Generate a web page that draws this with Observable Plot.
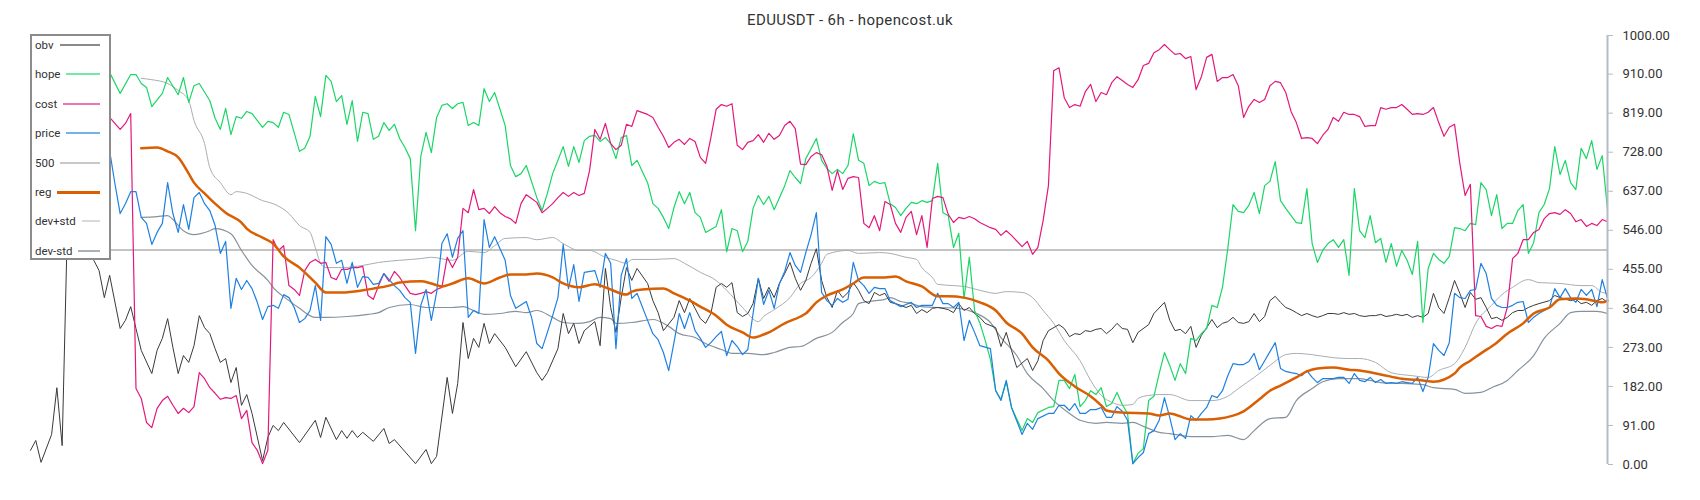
<!DOCTYPE html>
<html><head><meta charset="utf-8">
<script src="https://cdn.jsdelivr.net/npm/d3@7"></script>
<script src="https://cdn.jsdelivr.net/npm/@observablehq/plot@0.6"></script>
<style>
body{margin:0;background:#fff;font-family:Roboto,"Open Sans",sans-serif}
#wrap{position:relative;width:1700px;height:500px}
#title{height:32px;padding-top:12px;box-sizing:border-box;line-height:16px;text-align:center;font-size:15px;letter-spacing:0.4px;color:#333}
#legend{position:absolute;left:30px;top:34px;width:81px;height:226px;border:2px solid #8c8c8c;background:#fff;box-sizing:border-box}
.li{position:absolute;left:3px;right:9px;display:flex;align-items:center;height:14px;font-size:11.5px;color:#333}
.li span.s{flex:1;margin-left:6px}
</style></head>
<body><div id="wrap"><div id="title">EDUUSDT - 6h - hopencost.uk</div><div id="chart"></div><div id="legend"></div></div>
<script>
const yTicks = [0, 91, 182, 273, 364, 455, 546, 637, 728, 819, 910, 1000];
const legendLabels = ["obv","hope","cost","price","500","reg","dev+std","dev-std"];
const level = 500;
const lastBar = 299;

const obv = [[0,33],[1,56],[2,5],[4,70],[5,179],[6,44],[7,560],[8,620],[9,580],[10,640],[11,560],[12,476],[13,452],[14,389],[15,441],[17,317],[18,336],[19,368],[20,317],[21,266],[23,212],[24,266],[25,294],[26,340],[27,273],[28,212],[29,254],[30,238],[31,277],[32,347],[33,319],[34,305],[35,270],[36,238],[37,247],[38,191],[39,226],[40,138],[41,163],[42,119],[44,9],[45,63],[46,91],[47,79],[48,98],[51,51],[54,103],[55,63],[56,110],[58,58],[59,79],[60,61],[61,79],[62,63],[63,75],[65,54],[67,84],[68,49],[69,58],[73,2],[75,35],[76,2],[77,19],[79,203],[80,119],[81,189],[82,331],[83,247],[84,294],[85,273],[86,329],[87,282],[88,305],[90,273],[92,228],[94,263],[96,214],[97,196],[98,214],[100,270],[101,352],[102,305],[103,329],[104,282],[105,312],[107,333],[108,277],[109,457],[110,366],[111,308],[112,389],[113,459],[114,429],[115,457],[117,422],[118,382],[119,354],[120,312],[122,343],[123,382],[124,354],[125,387],[126,364],[127,340],[128,329],[129,352],[130,413],[131,422],[132,413],[133,424],[134,354],[135,345],[136,352],[137,375],[138,434],[139,387],[140,413],[141,389],[142,422],[143,445],[144,471],[145,434],[146,406],[147,429],[148,469],[149,503],[150,429],[151,389],[152,366],[153,406],[154,389],[155,401],[156,424],[157,406],[158,382],[159,375],[160,401],[161,394],[162,399],[163,378],[164,375],[165,371],[166,366],[167,371],[168,352],[169,361],[170,354],[171,364],[172,366],[173,364],[174,361],[175,354],[176,375],[177,359],[178,366],[179,352],[180,343],[181,329],[183,319],[184,275],[185,308],[186,266],[187,226],[189,247],[190,219],[191,242],[192,289],[193,312],[195,326],[196,317],[197,298],[198,305],[199,303],[200,312],[201,310],[202,315],[203,317],[204,305],[205,315],[206,329],[207,317],[208,315],[209,284],[210,308],[212,326],[213,352],[215,378],[216,336],[217,312],[218,315],[219,305],[220,322],[221,273],[222,301],[223,319],[224,338],[225,319],[226,329],[227,333],[228,343],[229,331],[230,329],[231,333],[232,352],[233,333],[234,345],[235,382],[236,392],[237,378],[238,366],[239,361],[240,354],[241,347],[242,352],[243,347],[244,343],[245,347],[246,352],[247,352],[248,350],[249,354],[250,350],[251,352],[252,347],[253,345],[254,347],[255,347],[256,350],[257,345],[258,347],[259,350],[260,347],[261,350],[262,343],[263,347],[264,343],[265,352],[266,399],[267,366],[268,352],[269,389],[270,429],[271,399],[272,366],[273,401],[274,385],[275,389],[276,366],[277,340],[278,343],[279,336],[280,343],[281,354],[282,359],[283,359],[284,366],[285,371],[286,375],[288,382],[289,394],[290,389],[292,382],[293,385],[294,375],[295,378],[296,371],[297,382],[298,387],[299,378]];

const hope = [[0,850],[2,880],[4,830],[6,900],[8,990],[9,1000],[10,985],[11,930],[12,900],[13,870],[14,880],[15,914],[17,865],[19,909],[20,909],[21,888],[22,879],[23,834],[25,865],[26,902],[28,862],[29,902],[30,844],[31,883],[32,888],[34,848],[35,807],[36,781],[37,830],[38,769],[39,811],[40,807],[41,823],[42,818],[44,786],[45,800],[46,797],[47,786],[48,821],[49,816],[51,730],[52,737],[53,765],[54,858],[55,811],[56,907],[57,893],[58,846],[59,860],[60,793],[61,848],[62,753],[63,821],[64,818],[65,758],[66,765],[67,797],[68,779],[69,793],[70,760],[71,739],[72,713],[73,545],[74,718],[75,774],[76,727],[77,809],[78,837],[79,841],[80,830],[81,841],[82,844],[83,790],[84,797],[85,790],[86,876],[87,846],[88,867],[90,790],[91,697],[92,671],[93,678],[94,697],[96,622],[97,592],[98,632],[99,678],[100,709],[101,741],[102,695],[103,741],[104,704],[105,755],[106,765],[107,767],[108,753],[109,762],[110,748],[111,713],[112,762],[113,767],[114,697],[115,709],[117,657],[118,608],[119,597],[120,576],[121,550],[122,599],[123,636],[124,608],[125,634],[126,587],[127,576],[128,541],[130,555],[131,594],[132,496],[133,550],[134,545],[135,496],[136,520],[137,597],[138,627],[139,606],[140,625],[141,594],[142,622],[143,650],[144,685],[145,669],[146,655],[147,713],[148,736],[149,760],[150,709],[151,690],[152,678],[153,688],[154,678],[155,697],[156,771],[157,709],[158,702],[159,650],[160,660],[161,655],[162,657],[163,608],[164,599],[165,580],[166,597],[167,611],[168,608],[169,615],[170,611],[171,615],[172,702],[173,587],[174,580],[175,506],[176,539],[177,387],[178,483],[179,359],[180,330],[181,290],[182,245],[183,172],[184,152],[185,193],[186,133],[188,79],[189,107],[190,98],[191,121],[193,133],[194,135],[195,196],[196,196],[197,177],[198,210],[199,135],[200,149],[201,172],[202,163],[203,179],[204,135],[205,142],[206,168],[207,140],[208,119],[209,2],[210,26],[211,37],[212,149],[213,159],[214,212],[215,261],[216,231],[217,196],[218,235],[219,212],[220,294],[221,289],[222,305],[223,317],[224,371],[225,366],[226,413],[227,503],[228,606],[229,590],[230,587],[231,604],[232,634],[233,585],[234,650],[235,660],[236,706],[237,615],[238,597],[239,580],[240,564],[241,562],[242,643],[243,515],[244,471],[245,499],[246,515],[247,524],[248,506],[249,524],[250,441],[251,643],[252,545],[253,529],[254,580],[255,517],[256,527],[257,471],[258,515],[259,462],[260,499],[261,476],[262,443],[263,520],[264,331],[265,457],[266,492],[267,478],[268,469],[269,485],[270,552],[271,550],[272,545],[273,562],[274,559],[275,657],[276,641],[277,580],[278,629],[279,550],[280,562],[281,562],[282,592],[283,606],[284,492],[285,517],[286,587],[287,606],[288,643],[289,741],[290,676],[291,709],[292,657],[293,641],[294,737],[295,713],[296,755],[297,688],[298,720],[299,594]];

const cost = [[0,760],[3,800],[6,780],[9,820],[12,790],[14,800],[15,809],[17,781],[18,795],[19,818],[20,177],[21,154],[22,98],[23,86],[24,131],[25,149],[26,159],[27,138],[28,119],[29,131],[30,121],[31,135],[32,214],[33,200],[34,179],[35,166],[36,152],[37,156],[38,154],[39,161],[40,107],[41,126],[42,51],[43,33],[44,2],[45,33],[46,524],[47,499],[48,510],[49,417],[50,408],[51,394],[52,452],[53,471],[54,478],[55,469],[56,471],[57,436],[58,431],[59,455],[60,455],[61,459],[62,459],[63,462],[64,394],[65,385],[66,417],[67,445],[68,427],[69,450],[70,436],[71,417],[72,399],[73,396],[74,399],[75,403],[76,399],[77,408],[78,413],[79,483],[80,459],[81,483],[82,597],[83,587],[84,641],[85,594],[86,597],[87,585],[88,601],[89,587],[90,578],[91,573],[92,562],[93,608],[94,629],[95,620],[96,611],[97,587],[98,597],[99,608],[100,622],[101,634],[102,625],[103,634],[104,627],[105,632],[106,685],[107,781],[108,758],[109,795],[110,748],[111,734],[112,744],[113,793],[114,788],[115,825],[117,816],[118,809],[119,786],[120,765],[121,739],[122,751],[123,758],[124,746],[125,760],[126,753],[127,716],[128,702],[129,762],[130,828],[131,839],[132,835],[133,841],[134,744],[135,734],[136,751],[137,755],[138,769],[139,751],[140,772],[141,758],[142,767],[143,790],[144,800],[145,783],[146,700],[147,699],[148,718],[149,727],[150,722],[151,695],[152,639],[153,685],[154,641],[155,667],[156,671],[157,669],[158,562],[159,552],[160,580],[161,545],[162,613],[163,606],[164,562],[165,541],[166,576],[167,590],[168,536],[169,580],[170,506],[171,620],[172,625],[173,622],[174,583],[175,564],[176,576],[177,573],[178,578],[179,573],[180,564],[182,552],[183,548],[184,534],[185,545],[186,534],[188,508],[189,520],[190,490],[191,506],[192,569],[193,650],[194,918],[195,925],[196,855],[197,832],[198,839],[199,835],[200,869],[201,886],[202,846],[203,867],[204,862],[205,890],[206,904],[207,895],[208,886],[209,879],[210,897],[211,930],[212,935],[213,960],[214,967],[215,979],[216,967],[217,956],[218,958],[219,946],[220,951],[221,874],[222,904],[223,949],[224,956],[225,893],[226,902],[227,902],[228,909],[229,883],[230,809],[231,835],[232,851],[233,844],[234,851],[235,883],[236,893],[237,890],[238,867],[239,823],[240,797],[241,760],[242,762],[243,760],[244,748],[245,767],[246,781],[247,809],[248,800],[249,821],[250,816],[251,816],[252,811],[253,788],[254,790],[255,790],[256,832],[257,828],[258,832],[259,832],[260,839],[261,828],[262,816],[263,818],[264,816],[265,821],[266,832],[267,797],[268,765],[269,786],[270,793],[271,702],[272,627],[273,653],[274,347],[275,345],[276,322],[277,317],[278,324],[279,322],[280,366],[281,480],[282,492],[283,524],[284,524],[285,541],[286,548],[287,573],[288,585],[289,587],[290,583],[291,594],[292,585],[293,566],[294,571],[295,555],[296,562],[297,557],[298,571],[299,566]];

const price = [[0,700],[3,760],[6,720],[9,780],[12,740],[14,760],[15,732],[16,655],[17,585],[18,608],[19,636],[20,636],[21,576],[22,562],[23,513],[24,541],[25,562],[26,657],[27,585],[28,541],[29,606],[30,548],[31,622],[32,634],[33,608],[34,592],[35,557],[36,492],[37,520],[38,364],[39,434],[40,408],[41,429],[42,410],[43,378],[44,338],[45,368],[46,371],[47,364],[48,396],[49,389],[50,366],[51,331],[52,340],[53,359],[54,417],[55,336],[56,531],[57,513],[58,469],[59,476],[60,422],[61,471],[62,413],[63,438],[64,436],[65,420],[66,422],[67,445],[68,431],[69,417],[70,406],[71,389],[72,378],[73,259],[74,371],[75,408],[76,336],[77,401],[78,515],[79,538],[80,483],[81,527],[82,545],[83,343],[84,359],[85,352],[86,571],[87,506],[88,531],[90,476],[91,394],[92,364],[94,380],[95,343],[96,282],[97,270],[98,308],[99,347],[100,389],[101,513],[102,410],[103,466],[104,380],[105,448],[107,452],[108,413],[109,492],[110,469],[111,270],[112,441],[113,480],[114,387],[115,399],[117,336],[118,305],[119,291],[120,261],[121,219],[122,284],[123,352],[124,317],[125,354],[126,312],[127,294],[128,273],[129,284],[130,298],[131,310],[132,254],[133,289],[134,275],[135,256],[136,268],[137,352],[138,434],[139,373],[140,406],[141,364],[142,422],[143,450],[144,494],[145,464],[146,448],[147,494],[148,536],[149,587],[150,401],[151,382],[152,371],[153,387],[154,378],[155,385],[156,471],[157,429],[158,417],[159,399],[160,413],[161,410],[162,410],[163,382],[164,375],[165,368],[166,373],[167,378],[168,366],[169,371],[170,371],[171,371],[172,399],[173,375],[174,375],[175,366],[176,378],[177,289],[178,336],[179,308],[180,277],[182,270],[183,172],[184,149],[185,196],[186,133],[188,70],[189,96],[190,82],[191,107],[193,119],[194,119],[195,138],[196,138],[197,126],[198,142],[199,119],[200,119],[201,128],[202,128],[203,133],[204,110],[205,110],[206,135],[207,124],[208,103],[209,2],[210,16],[211,28],[212,72],[213,79],[214,103],[215,156],[216,110],[217,58],[218,72],[219,61],[220,114],[221,103],[222,119],[223,133],[224,161],[225,156],[226,172],[227,207],[228,235],[229,233],[230,233],[231,240],[232,259],[233,221],[234,242],[235,263],[236,284],[237,224],[238,217],[239,214],[240,212],[241,207],[242,219],[243,203],[244,191],[245,200],[246,200],[247,200],[248,203],[249,203],[250,189],[251,212],[252,196],[253,193],[254,203],[255,191],[256,198],[257,189],[258,191],[259,189],[260,193],[261,191],[262,189],[263,203],[264,170],[265,203],[266,282],[267,266],[268,254],[269,284],[270,399],[271,389],[272,387],[273,406],[274,408],[275,469],[276,445],[277,387],[278,371],[279,366],[280,366],[281,371],[282,378],[283,380],[284,331],[285,343],[286,352],[287,359],[288,366],[289,410],[290,389],[291,410],[292,389],[293,378],[294,408],[295,394],[296,408],[297,368],[298,431],[299,387]];

const reg = [[21,737],[24,739],[26,730],[28,716],[30,678],[31,657],[33,632],[35,608],[37,587],[40,564],[41,550],[44,529],[46,515],[48,485],[51,459],[54,424],[56,401],[59,401],[63,406],[65,410],[68,417],[70,424],[74,427],[76,422],[78,415],[80,422],[83,434],[86,422],[89,436],[91,443],[94,443],[96,445],[99,436],[101,422],[104,413],[107,420],[109,413],[113,396],[114,403],[116,408],[120,410],[122,399],[125,382],[127,368],[130,347],[132,326],[135,308],[137,296],[139,303],[140,308],[143,329],[146,345],[147,352],[149,378],[151,394],[154,408],[156,422],[158,436],[162,436],[164,438],[166,427],[169,415],[172,392],[174,392],[177,389],[180,378],[183,359],[185,331],[188,305],[190,273],[193,242],[195,212],[198,182],[201,159],[203,138],[204,126],[207,121],[212,119],[214,114],[216,119],[220,105],[223,105],[228,114],[230,124],[233,152],[235,172],[237,184],[240,203],[242,217],[244,224],[247,226],[250,221],[252,219],[256,210],[260,200],[264,196],[266,193],[270,212],[271,226],[273,242],[275,259],[278,284],[280,305],[283,329],[285,352],[288,366],[290,385],[293,387],[295,385],[297,380],[298,378],[299,382]];

const devPlus = [[21,900],[23,897],[26,888],[28,872],[30,848],[31,802],[33,748],[34,692],[36,657],[38,629],[39,636],[41,632],[44,615],[46,608],[49,585],[51,557],[53,541],[54,506],[55,469],[56,459],[59,459],[63,464],[66,471],[70,476],[74,480],[76,483],[80,476],[83,497],[86,494],[88,510],[90,527],[94,529],[96,524],[99,529],[101,515],[104,499],[106,499],[109,483],[111,476],[113,469],[114,478],[118,478],[122,480],[124,469],[127,448],[130,429],[132,406],[135,366],[138,333],[139,345],[141,361],[144,389],[146,422],[148,436],[150,469],[151,490],[155,499],[157,492],[161,494],[163,492],[166,483],[168,478],[169,459],[171,436],[172,420],[175,417],[177,415],[180,406],[183,399],[185,403],[188,401],[190,389],[192,359],[194,329],[196,289],[199,242],[201,196],[203,161],[205,145],[207,138],[209,140],[210,154],[212,161],[214,163],[216,163],[220,149],[224,149],[227,159],[229,177],[232,203],[235,231],[238,256],[240,259],[243,256],[247,249],[250,247],[252,247],[255,238],[258,214],[262,207],[265,203],[267,219],[270,235],[272,273],[274,329],[277,371],[279,396],[281,413],[284,431],[286,424],[290,422],[294,417],[296,417],[298,401],[299,399]];

const devMinus = [[21,576],[24,578],[26,580],[27,571],[29,545],[31,536],[34,545],[35,550],[38,538],[40,499],[42,464],[45,429],[46,413],[49,382],[51,364],[54,343],[56,343],[60,345],[64,350],[66,354],[68,366],[72,373],[75,366],[77,366],[80,366],[82,368],[84,359],[86,350],[89,352],[92,357],[94,354],[96,359],[99,343],[101,331],[104,329],[106,333],[108,343],[110,340],[111,329],[114,331],[118,338],[121,322],[123,305],[126,296],[128,282],[131,268],[133,259],[136,259],[139,256],[141,261],[144,273],[146,275],[149,294],[152,308],[154,331],[156,352],[157,375],[159,380],[162,385],[163,389],[165,380],[167,375],[169,368],[172,366],[176,364],[179,354],[182,331],[184,296],[187,254],[189,212],[192,177],[194,149],[197,119],[199,103],[202,96],[204,98],[207,96],[209,98],[211,89],[214,75],[216,72],[220,65],[224,65],[227,68],[230,58],[232,79],[235,107],[238,110],[240,149],[243,177],[245,193],[248,200],[252,200],[254,196],[256,191],[260,189],[264,186],[266,179],[270,175],[272,166],[275,168],[277,179],[280,196],[282,219],[285,254],[287,294],[290,329],[292,354],[294,357],[297,357],[299,352]];

const style = {
  obv:      {stroke: "#3a3a3a", strokeWidth: 1,   legend: "#8a8a8a", lw: 2},
  hope:     {stroke: "#1ad666", strokeWidth: 1.2, legend: "#74e8a4", lw: 2},
  cost:     {stroke: "#e3187b", strokeWidth: 1.2, legend: "#ef74b4", lw: 2},
  price:    {stroke: "#1f80e2", strokeWidth: 1.2, legend: "#74b2ee", lw: 2},
  "500":    {stroke: "#c4c4c4", strokeWidth: 2,   legend: "#c8c8c8", lw: 2},
  reg:      {stroke: "#d95f02", strokeWidth: 2.5, legend: "#d95f02", lw: 3},
  "dev+std":{stroke: "#a6aeb5", strokeWidth: 1,   legend: "#d6dadd", lw: 2},
  "dev-std":{stroke: "#87929c", strokeWidth: 1.2, legend: "#a8b0b8", lw: 2}
};

const X = d => d[0], Y = d => d[1];
const ln = (data, key, curve = "linear") => Plot.line(data, {x: X, y: Y, stroke: style[key].stroke, strokeWidth: style[key].strokeWidth, curve});

const chart = Plot.plot({
  width: 1700, height: 468,
  marginTop: 3, marginBottom: 36, marginLeft: 30, marginRight: 93,
  style: {fontFamily: "Roboto, sans-serif", fontSize: "13px", color: "#333", background: "#fff", overflow: "visible"},
  x: {domain: [0, lastBar], axis: null},
  y: {domain: [0, 1000], axis: null},
  marks: [
    Plot.ruleY([level], {stroke: style["500"].stroke, strokeWidth: style["500"].strokeWidth}),
    ln(devPlus, "dev+std", "monotone-x"),
    ln(devMinus, "dev-std", "monotone-x"),
    ln(obv, "obv"),
    ln(hope, "hope"),
    ln(cost, "cost"),
    ln(price, "price"),
    ln(reg, "reg", "monotone-x"),
    Plot.ruleX([lastBar], {y1: 0, y2: 1000, stroke: "#b3bcc4", strokeWidth: 2}),
    Plot.axisY({anchor: "right", ticks: yTicks, tickFormat: d => d.toFixed(2), tickSize: 5, tickPadding: 10, stroke: "#b3bcc4", fill: "#333", fontSize: 13, label: null})
  ]
});
document.getElementById("chart").appendChild(chart);

const lg = document.getElementById("legend");
legendLabels.forEach((name, k) => {
  const row = document.createElement("div");
  row.className = "li";
  row.style.top = (45 - 36 + k * 29.4 - 7) + "px";
  const t = document.createElement("span");
  t.textContent = name;
  const s = document.createElement("span");
  s.className = "s";
  s.style.borderTop = style[name].lw + "px solid " + style[name].legend;
  row.appendChild(t); row.appendChild(s);
  lg.appendChild(row);
});
</script></body></html>
